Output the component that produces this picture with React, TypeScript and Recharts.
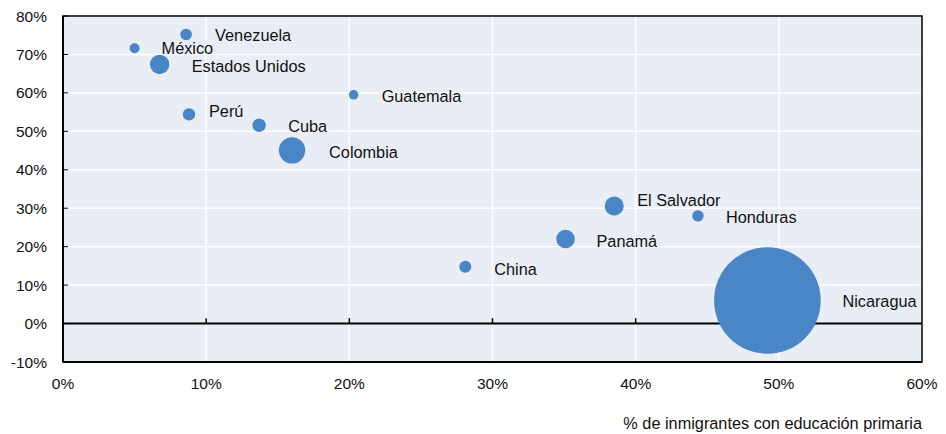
import React from "react"
import {
  ScatterChart,
  Scatter,
  XAxis,
  YAxis,
  ZAxis,
  CartesianGrid,
  ReferenceLine,
  ReferenceArea,
  LabelList,
  Label,
} from "recharts"

// países de origen
const countries = [
  "Venezuela",
  "México",
  "Estados Unidos",
  "Guatemala",
  "Perú",
  "Cuba",
  "Colombia",
  "El Salvador",
  "Honduras",
  "Panamá",
  "China",
  "Nicaragua",
]
// % de inmigrantes con educación primaria
const primaryShare = [8.6, 5.0, 6.75, 20.3, 8.8, 13.7, 16.0, 38.5, 44.35, 35.1, 28.1, 49.2]
// eje vertical
const yShare = [75.2, 71.6, 67.4, 59.5, 54.4, 51.6, 45.05, 30.6, 28.0, 22.0, 14.8, 6.0]
// tamaño de la burbuja (% del total de inmigrantes)
const immigrantShare = [0.88, 0.65, 2.45, 0.58, 1.0, 1.17, 4.54, 2.35, 0.85, 2.25, 0.94, 74]

const xTicks = [0, 10, 20, 30, 40, 50, 60]
const yTicks = [-10, 0, 10, 20, 30, 40, 50, 60, 70, 80]

const data = countries.map((name, i) => ({
  name,
  x: primaryShare[i],
  y: yShare[i],
  z: immigrantShare[i],
}))

// label placement relative to bubble centre
const labelNudge: Record<string, [number, number]> = {
  Venezuela: [29, 1],
  "México": [27, 0],
  "Estados Unidos": [32, 2],
  Guatemala: [28, 1],
  "Perú": [20, -3],
  Cuba: [29, 1],
  Colombia: [37, 2],
  "El Salvador": [23, -6],
  Honduras: [28, 1],
  "Panamá": [31, 2],
  China: [29, 2],
  Nicaragua: [75, 1],
}

const FONT = "'Liberation Sans', Arial, sans-serif"
const BLUE = "#4a86c5"

const renderLabel = (props: any) => {
  const { x, y, width, height, value } = props
  const cx = Number(x) + Number(width) / 2
  const cy = Number(y) + Number(height) / 2
  const [dx, dy] = labelNudge[value] || [25, 0]
  return (
    <text
      x={cx + dx}
      y={cy + dy}
      dominantBaseline="central"
      fontSize={16.3}
      fontFamily={FONT}
      fill="#111"
    >
      {value}
    </text>
  )
}

export default function App() {
  return (
    <div style={{ position: "absolute", left: 0, top: 0 }}>
      <ScatterChart
        width={946}
        height={434}
        margin={{ top: 16, right: 24, bottom: 0, left: 8 }}
        style={{ fontFamily: FONT }}
      >
        <CartesianGrid stroke="#ffffff" strokeWidth={1.5} fill="#e9edf6" fillOpacity={1} />
        <XAxis
          type="number"
          dataKey="x"
          domain={[0, 60]}
          ticks={xTicks}
          tickFormatter={(v) => `${v}%`}
          axisLine={{ stroke: "#000", strokeWidth: 2 }}
          tickLine={false}
          tickSize={0}
          tickMargin={16}
          height={72}
          tick={{ fontSize: 15.5, fill: "#111", fontFamily: FONT }}
        >
          <Label
            value="% de inmigrantes con educación primaria"
            position="insideBottomRight"
            offset={0}
            dy={-5}
            fontSize={16.3}
            fontFamily={FONT}
            fill="#111"
          />
        </XAxis>
        <YAxis
          type="number"
          dataKey="y"
          domain={[-10, 80]}
          ticks={yTicks}
          tickFormatter={(v) => `${v}%`}
          axisLine={{ stroke: "#000", strokeWidth: 2 }}
          tickLine={{ stroke: "#000" }}
          tickSize={-5}
          tickMargin={21}
          width={55}
          tick={{ fontSize: 15.5, fill: "#111", fontFamily: FONT }}
        />
        <ZAxis type="number" dataKey="z" domain={[0, 74]} range={[0, 8925]} />
        <ReferenceLine y={0} stroke="#000" strokeWidth={2} />
        {[10, 20, 30, 40, 50].map((t) => (
          <ReferenceLine
            key={t}
            segment={[
              { x: t, y: 0 },
              { x: t, y: 1.4 },
            ]}
            stroke="#000"
            strokeWidth={1.5}
          />
        ))}
        <Scatter data={data} fill={BLUE} isAnimationActive={false}>
          <LabelList dataKey="name" content={renderLabel} />
        </Scatter>
        <ReferenceArea x1={0} x2={60} y1={-10} y2={80} fill="none" stroke="#000" strokeWidth={1.5} />
      </ScatterChart>
    </div>
  )
}
